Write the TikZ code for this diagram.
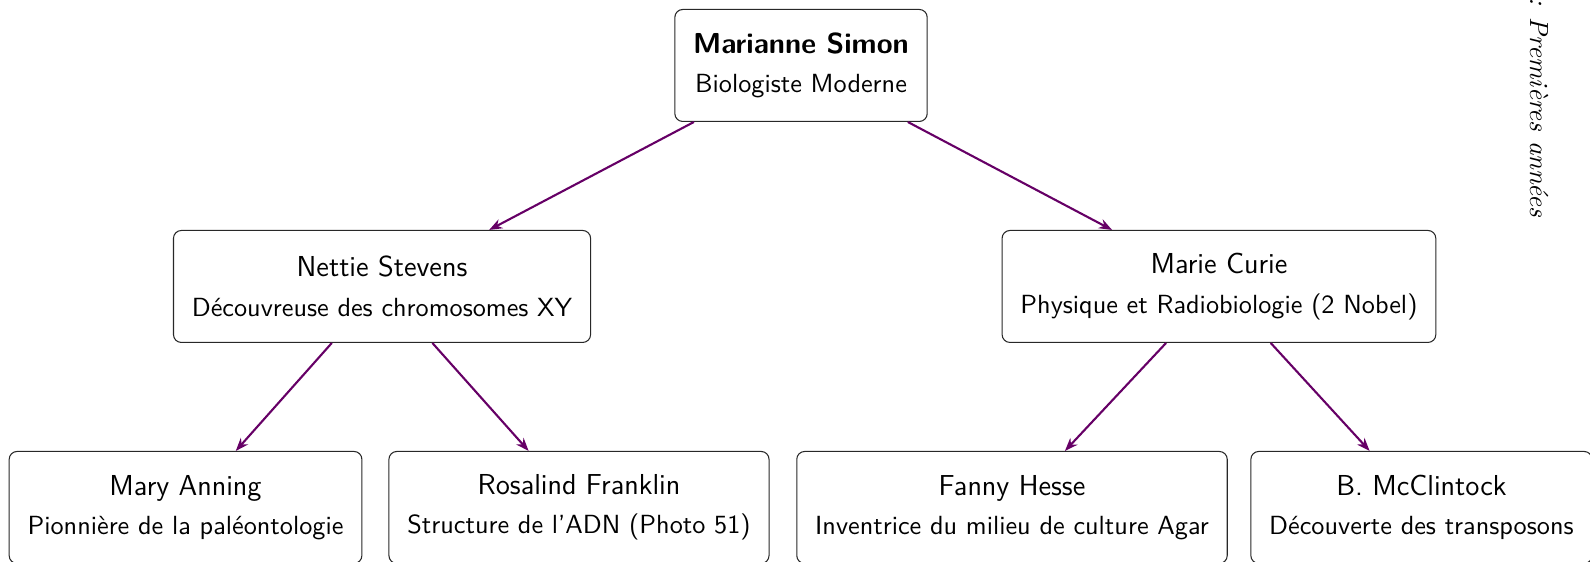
\documentclass[tikz,border=0pt]{standalone}
\usepackage{xcolor}
\usepackage{tikz}
\definecolor{treepurple}{RGB}{102, 0, 102}
\definecolor{treegray}{RGB}{40, 40, 40}
\usetikzlibrary{arrows.meta,positioning}
\newcommand{\pname}[1]{{\fontsize{11}{13}\selectfont #1}}

\begin{document}
\begin{tikzpicture}
    \tikzstyle{person} = [rectangle, rounded corners=3pt, draw=treegray, fill=white,
                          align=center, inner xsep=7pt, minimum height=1.5cm, font=\sffamily]
    \tikzstyle{link} = [-{Stealth[length=5pt]}, line width=0.8pt, treepurple]

    \useasboundingbox (0,0) rectangle (21.297,-7.527);

    % Root
    \node[person] (root) at (10.729,-0.877) {\pname{\textbf{Marianne Simon}}\\[3pt]Biologiste Moderne};

    % Second row
    \node[person] (stevens) at (5.117,-3.837) {\pname{Nettie Stevens}\\[3pt]Découvreuse des chromosomes XY};
    \node[person] (curie) at (16.327,-3.837) {\pname{Marie Curie}\\[3pt]Physique et Radiobiologie (2 Nobel)};

    % Third row
    \node[person] (anning) at (2.485,-6.797) {\pname{Mary Anning}\\[3pt]Pionnière de la paléontologie};
    \node[person] (franklin) at (7.755,-6.797) {\pname{Rosalind Franklin}\\[3pt]Structure de l'ADN (Photo 51)};
    \node[person] (hesse) at (13.555,-6.797) {\pname{Fanny Hesse}\\[3pt]Inventrice du milieu de culture Agar};
    \node[person] (mcclintock) at (19.039,-6.797) {\pname{B. McClintock}\\[3pt]Découverte des transposons};

    % Title
    \node[rotate=-90, anchor=base east, inner sep=0pt, font=\itshape] (title) at (20.506,-2.920) {: Premières années};

    % Connections
    \draw[link] (root) -- (stevens);
    \draw[link] (root) -- (curie);
    \draw[link] (stevens) -- (anning);
    \draw[link] (stevens) -- (franklin);
    \draw[link] (curie) -- (hesse);
    \draw[link] (curie) -- (mcclintock);
\end{tikzpicture}
\end{document}
